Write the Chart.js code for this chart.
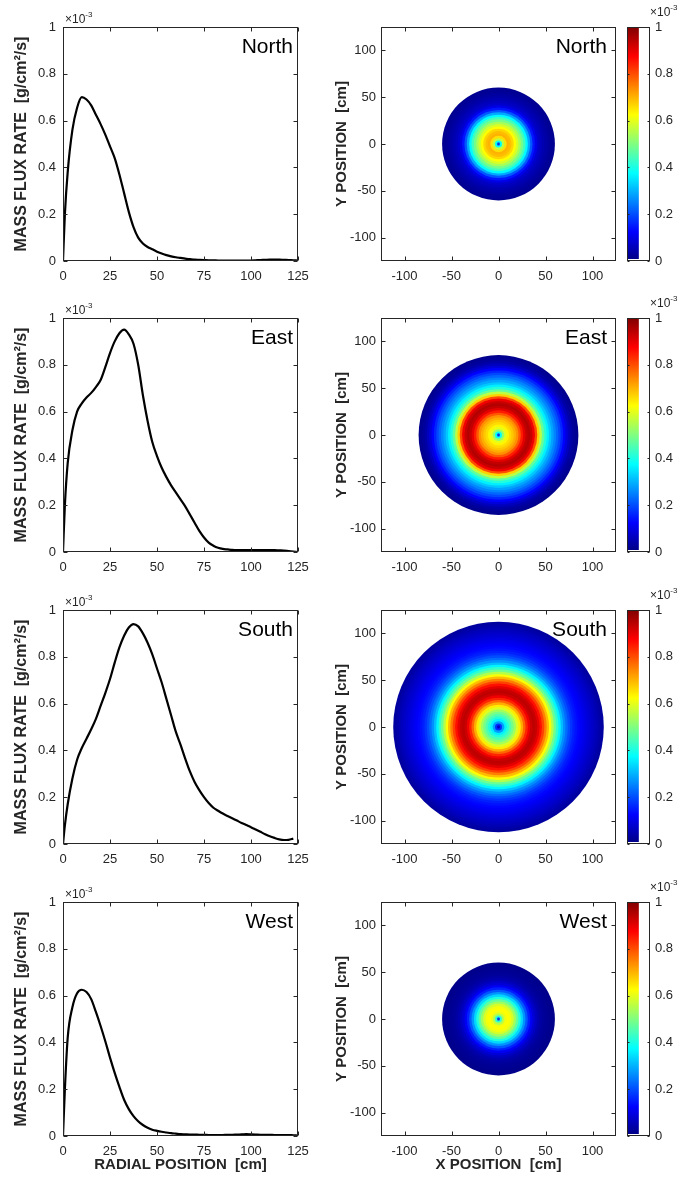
<!DOCTYPE html>
<html>
<head>
<meta charset="utf-8">
<script src="https://cdn.jsdelivr.net/npm/chart.js@4.4.1/dist/chart.umd.min.js"></script>
<style>
  body { margin: 0; background: #fff; }
  #wrap { position: relative; width: 686px; height: 1181px; overflow: hidden; }
  #wrap canvas { position: absolute; }
</style>
</head>
<body>
<div id="wrap"></div>
<script>
const directions = ["North", "East", "South", "West"];

// radial positions [cm]
const radialPos = [0, 1, 2.5, 5, 7.5, 10, 12.5, 15, 17.5, 20, 22.5, 25, 27.5, 30, 32.5, 35, 37.5, 40,
  42.5, 45, 47.5, 50, 52.5, 55, 57.5, 60, 62.5, 65, 67.5, 70, 72.5, 75, 77.5, 80, 82.5, 85, 87.5, 90,
  92.5, 95, 97.5, 100, 102.5, 105, 107.5, 110, 112.5, 115, 117.5, 120, 122.5, 125];

// mass flux rate, x1e-3 g/cm2/s
const northFlux = [0, 0.2, 0.38, 0.56, 0.655, 0.70, 0.69, 0.665, 0.625, 0.585, 0.54, 0.49, 0.44, 0.37,
  0.29, 0.21, 0.145, 0.10, 0.075, 0.06, 0.05, 0.04, 0.032, 0.025, 0.02, 0.016, 0.013, 0.01, 0.008,
  0.006, 0.005, 0.004, 0.003, 0.003, 0.002, 0.002, 0.002, 0.002, 0.002, 0.002, 0.002, 0.002, 0.003,
  0.004, 0.005, 0.006, 0.006, 0.006, 0.005, 0.004, 0.003, 0.002];
const eastFlux = [0, 0.2, 0.38, 0.52, 0.6, 0.635, 0.66, 0.68, 0.705, 0.735, 0.79, 0.85, 0.9, 0.935,
  0.95, 0.93, 0.89, 0.80, 0.67, 0.56, 0.47, 0.41, 0.36, 0.32, 0.285, 0.255, 0.225, 0.195, 0.16, 0.125,
  0.09, 0.062, 0.04, 0.027, 0.018, 0.013, 0.011, 0.009, 0.008, 0.008, 0.008, 0.008, 0.008, 0.008,
  0.008, 0.008, 0.008, 0.007, 0.006, 0.004, 0.002, 0];
const southFlux = [0, 0.08, 0.17, 0.28, 0.36, 0.41, 0.45, 0.49, 0.535, 0.59, 0.645, 0.705, 0.775, 0.84,
  0.89, 0.925, 0.94, 0.93, 0.9, 0.86, 0.81, 0.75, 0.69, 0.62, 0.55, 0.48, 0.425, 0.365, 0.31, 0.265,
  0.23, 0.2, 0.175, 0.155, 0.142, 0.13, 0.12, 0.11, 0.1, 0.09, 0.081, 0.072, 0.062, 0.052, 0.042,
  0.033, 0.026, 0.02, 0.017, 0.018, 0.023, null];
const westFlux = [0, 0.2, 0.42, 0.55, 0.61, 0.625, 0.615, 0.585, 0.53, 0.47, 0.405, 0.335, 0.27, 0.21,
  0.155, 0.115, 0.085, 0.063, 0.047, 0.035, 0.027, 0.022, 0.018, 0.015, 0.012, 0.01, 0.008, 0.007,
  0.006, 0.006, 0.005, 0.005, 0.004, 0.004, 0.004, 0.004, 0.005, 0.005, 0.006, 0.007, 0.008, 0.007,
  0.006, 0.005, 0.005, 0.005, 0.004, 0.004, 0.004, 0.004, 0.003, 0.002];

// outer radius of the sprayed disc in each map [cm]
const discRadius = [60, 85, 112, 60];

const radialTicks = [0, 25, 50, 75, 100, 125];
const fluxTicks = [0, 0.2, 0.4, 0.6, 0.8, 1];
const positionTicks = [-100, -50, 0, 50, 100];
const colorbarRange = [0, 1];

const fluxSeries = [northFlux, eastFlux, southFlux, westFlux];

const rowTop = [27, 318, 610, 902];
const plotH = 234;
const FONT = "'Liberation Sans', Arial, Helvetica, sans-serif";
const INK = "#262626";

Chart.defaults.font.family = FONT;
Chart.defaults.color = INK;
Chart.defaults.animation = false;

const wrap = document.getElementById("wrap");

const addCanvas = (left, top, width, height) => {
  const c = document.createElement("canvas");
  c.width = width;
  c.height = height;
  c.style.left = left + "px";
  c.style.top = top + "px";
  c.style.width = width + "px";
  c.style.height = height + "px";
  wrap.appendChild(c);
  return c;
};

const jet = t => {
  const c = v => Math.round(255 * Math.max(0, Math.min(1, v)));
  return `rgb(${c(1.5 - Math.abs(4 * t - 3))},${c(1.5 - Math.abs(4 * t - 2))},${c(1.5 - Math.abs(4 * t - 1))})`;
};

const setTicks = values => scale => {
  scale.ticks = values.map(v => ({ value: v }));
};

// fixed axis box sizes, no label overhang padding
const fitX = h => s => { s.height = h; s.paddingLeft = 0; s.paddingRight = 0; };
const fitY = w => s => { s.width = w; s.paddingTop = 0; s.paddingBottom = 0; };

const plainTick = v => String(v);

const drawExponent = (ctx, x, y) => {
  ctx.fillStyle = INK;
  ctx.textAlign = "left";
  ctx.textBaseline = "alphabetic";
  ctx.font = `12px ${FONT}`;
  ctx.fillText("×10", x, y);
  const w = ctx.measureText("×10").width;
  ctx.font = `8px ${FONT}`;
  ctx.fillText("-3", x + w, y - 6);
};

// box with inward ticks on all sides, plus panel labels
const boxPlugin = {
  id: "matlabBox",
  afterDraw(chart, args, opts) {
    const { ctx, chartArea: a, scales } = chart;
    const L = a.left + 0.5, R = a.right - 0.5, T = a.top + 0.5, B = a.bottom - 0.5;
    ctx.save();
    ctx.strokeStyle = INK;
    ctx.lineWidth = 1;
    ctx.strokeRect(L, T, R - L, B - T);
    const len = opts.tickLen || 4;
    ctx.beginPath();
    if (opts.xTicks) {
      scales.x.ticks.forEach(t => {
        const px = Math.round(scales.x.getPixelForValue(t.value)) + 0.5;
        ctx.moveTo(px, B); ctx.lineTo(px, B - len);
        ctx.moveTo(px, T); ctx.lineTo(px, T + len);
      });
    }
    scales.y.ticks.forEach(t => {
      const py = Math.round(scales.y.getPixelForValue(t.value)) + 0.5;
      ctx.moveTo(L, py); ctx.lineTo(L + len, py);
      ctx.moveTo(R, py); ctx.lineTo(R - len, py);
    });
    ctx.stroke();
    if (opts.label) {
      ctx.fillStyle = "#000";
      ctx.font = `21px ${FONT}`;
      ctx.textAlign = "right";
      ctx.textBaseline = "alphabetic";
      ctx.fillText(opts.label, a.right - opts.labelInset, a.top + 26);
    }
    if (opts.exponent) drawExponent(ctx, a.left + opts.exponent.dx, a.top - opts.exponent.dy);
    ctx.restore();
  }
};

const axisCommon = {
  grid: { display: false, drawTicks: false },
  border: { display: false }
};

const makeLineChart = row => {
  const last = row === 3;
  const bottomH = last ? 45 : 30;
  const canvas = addCanvas(0, rowTop[row] - 27, 310, 27 + plotH + bottomH);
  const vals = fluxSeries[row];
  new Chart(canvas, {
    type: "line",
    data: {
      datasets: [{
        data: radialPos.map((r, i) => ({ x: r, y: vals[i] })),
        borderColor: "#000",
        borderWidth: 2.2,
        pointRadius: 0,
        cubicInterpolationMode: "monotone",
        fill: false
      }]
    },
    options: {
      responsive: false,
      events: [],
      layout: { padding: { top: 27, right: 12, left: 0, bottom: 0 }, autoPadding: false },
      plugins: {
        legend: { display: false },
        tooltip: { enabled: false },
        matlabBox: { xTicks: true, label: directions[row], labelInset: 5, exponent: { dx: 2, dy: 4 } }
      },
      scales: {
        x: {
          ...axisCommon,
          type: "linear", min: 0, max: 125,
          afterBuildTicks: setTicks(radialTicks),
          afterFit: fitX(bottomH),
          ticks: { padding: 8, font: { size: 13 }, maxRotation: 0, callback: plainTick },
          title: { display: last, text: "RADIAL POSITION  [cm]", font: { size: 15, weight: "bold" }, padding: { top: 0, bottom: 7 } }
        },
        y: {
          ...axisCommon,
          min: 0, max: 1,
          afterBuildTicks: setTicks(fluxTicks),
          afterFit: fitY(63),
          ticks: { padding: 7, font: { size: 13 }, callback: plainTick },
          title: { display: true, text: "MASS FLUX RATE  [g/cm²/s]", font: { size: 16, weight: "bold" }, padding: { top: 12, bottom: 0 } }
        }
      }
    },
    plugins: [boxPlugin]
  });
};

// concentric rings of the radial profile, outermost first
const discRings = row => {
  const vals = fluxSeries[row];
  const rMax = discRadius[row];
  const rings = [];
  for (let i = radialPos.length - 1; i >= 0; i--) {
    if (radialPos[i] > rMax || vals[i] === null) continue;
    const next = radialPos[i + 1];
    const outer = next !== undefined && next <= rMax ? (radialPos[i] + next) / 2 : rMax;
    rings.push({ x: 0, y: 0, ringR: outer, flux: vals[i] });
  }
  return rings;
};

const makeDiscChart = row => {
  const last = row === 3;
  const bottomH = last ? 45 : 30;
  const canvas = addCanvas(312, rowTop[row] - 27, 374, 27 + plotH + bottomH);
  new Chart(canvas, {
    type: "scatter",
    data: {
      datasets: [{
        data: discRings(row),
        pointRadius: c => {
          const s = c.chart.scales.x;
          const px = Math.abs(s.getPixelForValue(c.raw.ringR) - s.getPixelForValue(0));
          return isFinite(px) ? px : 0;
        },
        pointBackgroundColor: c => jet(c.raw.flux),
        pointBorderWidth: 0,
        pointHoverRadius: 0
      }]
    },
    options: {
      responsive: false,
      events: [],
      layout: { padding: { top: 27, right: 70, left: 0, bottom: 0 }, autoPadding: false },
      plugins: {
        legend: { display: false },
        tooltip: { enabled: false },
        matlabBox: { xTicks: true, label: directions[row], labelInset: 9 }
      },
      scales: {
        x: {
          ...axisCommon,
          type: "linear", min: -125, max: 125,
          afterBuildTicks: setTicks(positionTicks),
          afterFit: fitX(bottomH),
          ticks: { padding: 8, font: { size: 13 }, maxRotation: 0, callback: plainTick },
          title: { display: last, text: "X POSITION  [cm]", font: { size: 15, weight: "bold" }, padding: { top: 0, bottom: 7 } }
        },
        y: {
          ...axisCommon,
          type: "linear", min: -125, max: 125,
          afterBuildTicks: setTicks(positionTicks),
          afterFit: fitY(69),
          ticks: { padding: 5, font: { size: 13 }, callback: plainTick },
          title: { display: true, text: "Y POSITION  [cm]", font: { size: 15, weight: "bold" }, padding: { top: 21, bottom: 0 } }
        }
      }
    },
    plugins: [boxPlugin]
  });
};

const makeColorbar = row => {
  const canvas = addCanvas(620, rowTop[row] - 27, 66, 27 + plotH + 10);
  new Chart(canvas, {
    type: "bar",
    data: {
      labels: ["flux"],
      datasets: [{
        data: [colorbarRange],
        borderWidth: 0,
        barPercentage: 1,
        categoryPercentage: 1,
        backgroundColor: c => {
          const a = c.chart.chartArea;
          if (!a) return "#fff";
          const y = c.chart.scales.y;
          const g = c.chart.ctx.createLinearGradient(0, y.getPixelForValue(0), 0, y.getPixelForValue(1));
          g.addColorStop(0, "#fff");
          g.addColorStop(0.008, "#fff");
          g.addColorStop(0.0081, jet(0.0081));
          [0.125, 0.25, 0.375, 0.5, 0.625, 0.75, 0.875, 1].forEach(t => g.addColorStop(t, jet(t)));
          return g;
        }
      }]
    },
    options: {
      responsive: false,
      events: [],
      layout: { padding: { top: 27, right: 0, left: 7, bottom: 10 }, autoPadding: false },
      plugins: {
        legend: { display: false },
        tooltip: { enabled: false },
        matlabBox: { xTicks: false, tickLen: 2, exponent: { dx: 23, dy: 11 } }
      },
      scales: {
        x: { display: false, offset: false },
        y: {
          ...axisCommon,
          position: "right", min: 0, max: 1,
          afterBuildTicks: setTicks(fluxTicks),
          afterFit: fitY(36),
          ticks: { padding: 5, font: { size: 13 }, callback: plainTick }
        }
      }
    },
    plugins: [boxPlugin]
  });
};

for (let row = 0; row < 4; row++) {
  makeLineChart(row);
  makeDiscChart(row);
  makeColorbar(row);
}
</script>
</body>
</html>
